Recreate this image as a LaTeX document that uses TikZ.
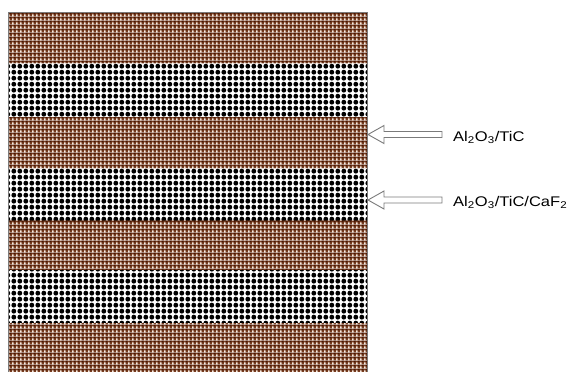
\documentclass[tikz,border=0pt]{standalone}
\usepackage{fontspec}
\setmainfont{Liberation Sans}
\usetikzlibrary{patterns.meta}
\definecolor{brownM}{HTML}{7A3F22}
\definecolor{brownD}{HTML}{461603}
\definecolor{brownL}{HTML}{F8ECE2}
\definecolor{edgegray}{HTML}{7A7A7A}
\tikzdeclarepattern{name=brownchk, type=colored,
  bottom left={(0pt,0pt)}, top right={(4pt,4pt)}, tile size={(4pt,4pt)},
  code={\fill[brownM] (0pt,0pt) rectangle (4pt,4pt);
        \fill[brownL] (0.3pt,0.3pt) rectangle (2pt,2pt);
        \fill[brownD] (2pt,2pt) rectangle (4pt,4pt);}}
\tikzdeclarepattern{name=blackdots, type=colored,
  bottom left={(0pt,0pt)}, top right={(5.8pt,5.8pt)}, tile size={(5.8pt,5.8pt)},
  code={\fill[white] (0pt,0pt) rectangle (5.8pt,5.8pt);
        \fill[black] (2.9pt,2.9pt) circle (2.5pt);}}
\tikzset{
  brownband/.style={pattern=brownchk},
  blackband/.style={pattern=blackdots},
  hollowarrow/.style={draw=edgegray, fill=white, line width=0.9pt, line join=miter},
  lab/.style={anchor=base west, inner sep=0pt, font=\fontsize{14}{16}\selectfont}
}
\begin{document}
\begin{tikzpicture}[x=1pt,y=-1pt]
\useasboundingbox (0,0) rectangle (571,372);
\begin{scope}
\clip (0,0) rectangle (571,372);
\fill[brownband] (8,12) rectangle (367,63);
\fill[blackband] (8,63) rectangle (367,117);
\fill[brownband] (8,117) rectangle (367,168);
\fill[blackband] (8,168) rectangle (367,220);
\fill[brownband] (8,220) rectangle (367,270);
\fill[blackband] (8,270) rectangle (367,323);
\fill[brownband] (8,323) rectangle (367,380);
\draw[edgegray, line width=0.9pt] (8,380) -- (8,12) -- (367,12) -- (367,380);
\end{scope}
\coordinate (tipA) at (368,134.5);
\coordinate (tipB) at (368,200);
\foreach \t in {tipA,tipB}{
  \draw[hollowarrow] (\t) -- ++(16,-9) -- ++(0,6) -- ++(58,0) -- ++(0,6) -- ++(-58,0) -- ++(0,6) -- cycle;
}
\node[lab] (labA) at (453,141) {\scalebox{1.18}[1]{Al\textsubscript{2}O\textsubscript{3}/TiC}};
\node[lab] (labB) at (453,206) {\scalebox{1.18}[1]{Al\textsubscript{2}O\textsubscript{3}/TiC/CaF\textsubscript{2}}};
\end{tikzpicture}
\end{document}
